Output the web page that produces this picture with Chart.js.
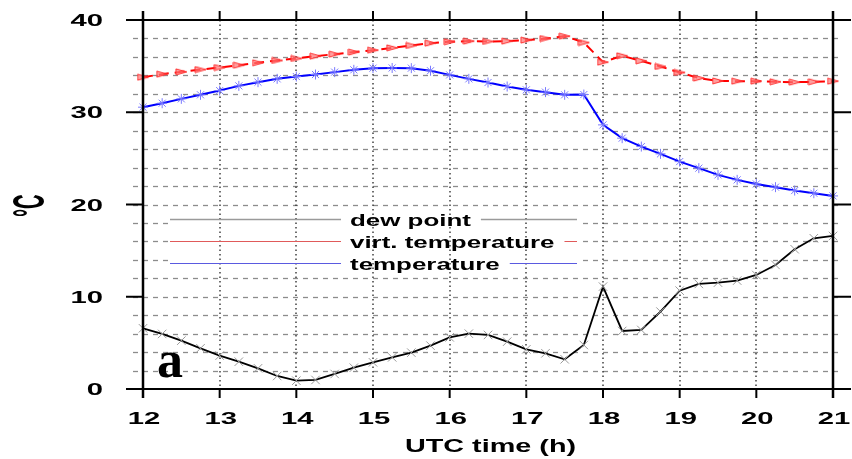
<!DOCTYPE html>
<html>
<head>
<meta charset="utf-8">
<script src="https://cdn.jsdelivr.net/npm/chart.js@4.4.1/dist/chart.umd.min.js"></script>
<style>
  html, body { margin: 0; padding: 0; background: #ffffff; }
  #wrap { width: 852px; height: 459px; }
</style>
</head>
<body>
<div id="wrap"><canvas id="c" width="852" height="459"></canvas></div>
<script>
// Observation times (UTC hours, 15-minute steps)
const times = [12, 12.25, 12.5, 12.75, 13, 13.25, 13.5, 13.75, 14, 14.25, 14.5, 14.75,
  15, 15.25, 15.5, 15.75, 16, 16.25, 16.5, 16.75, 17, 17.25, 17.5, 17.75,
  18, 18.25, 18.5, 18.75, 19, 19.25, 19.5, 19.75, 20, 20.25, 20.5, 20.75, 21];

// Dew point (°C)
const dewPoint = [6.58, 5.97, 5.24, 4.41, 3.62, 2.96, 2.24, 1.41, 0.9, 0.98, 1.63, 2.31,
  2.89, 3.43, 3.94, 4.7, 5.6, 6.0, 5.86, 5.13, 4.3, 3.87, 3.22, 4.77,
  11.1, 6.29, 6.4, 8.39, 10.66, 11.39, 11.53, 11.75, 12.36, 13.45, 15.15, 16.34, 16.59];

// Virtual temperature (°C)
const virtTemp = [33.8, 34.13, 34.38, 34.63, 34.85, 35.1, 35.36, 35.61, 35.83, 36.08, 36.3, 36.52,
  36.73, 36.98, 37.24, 37.49, 37.64, 37.71, 37.67, 37.71, 37.82, 37.99, 38.25, 37.56,
  35.43, 36.12, 35.57, 34.96, 34.31, 33.7, 33.4, 33.37, 33.37, 33.3, 33.26, 33.3, 33.37];

// Air temperature (°C)
const temperature = [30.55, 30.98, 31.45, 31.89, 32.35, 32.86, 33.26, 33.62, 33.87, 34.09, 34.35, 34.6,
  34.78, 34.8, 34.78, 34.5, 34.05, 33.62, 33.22, 32.79, 32.43, 32.18, 31.89, 31.92,
  28.63, 27.19, 26.28, 25.49, 24.65, 23.94, 23.21, 22.67, 22.23, 21.88, 21.51, 21.22, 20.93];

// Axis ticks
const xTicks = [12, 13, 14, 15, 16, 17, 18, 19, 20, 21];
const yTicks = [0, 10, 20, 30, 40];
const yMinorTicks = [2, 4, 6, 8, 10, 12, 14, 16, 18, 20, 22, 24, 26, 28, 30, 32, 34, 36, 38];

// Legend entries (top to bottom)
const legendLabels = ['dew point', 'virt. temperature', 'temperature'];
const legendColors = ['#9a9a9a', '#e05a5a', '#5a5ae0'];

function series(vals) {
  return vals.map((v, i) => ({ x: times[i], y: v }));
}

// right-pointing triangle marker
function triangleMarker() {
  const c = document.createElement('canvas');
  c.width = 13; c.height = 8;
  const g = c.getContext('2d');
  g.beginPath();
  g.moveTo(1, 1); g.lineTo(12, 4); g.lineTo(1, 7); g.closePath();
  g.fillStyle = 'rgba(255,120,120,0.7)';
  g.fill();
  g.strokeStyle = '#ff3030';
  g.lineWidth = 1;
  g.stroke();
  return c;
}

// text with horizontal stretch
function wideText(ctx, text, x, y, font, sx, align) {
  ctx.save();
  ctx.font = font;
  ctx.textBaseline = 'alphabetic';
  ctx.textAlign = 'left';
  const w = ctx.measureText(text).width * sx;
  const x0 = align === 'center' ? x - w / 2 : (align === 'right' ? x - w : x);
  ctx.translate(x0, y);
  ctx.scale(sx, 1);
  ctx.fillText(text, 0, 0);
  ctx.restore();
  return w;
}

const framePlugin = {
  id: 'frame',
  beforeDatasetsDraw(chart) {
    const ctx = chart.ctx;
    const xs = chart.scales.x, ys = chart.scales.y;
    const a = chart.chartArea;
    ctx.save();
    // horizontal dashed grid
    ctx.strokeStyle = '#8c8c8c';
    ctx.lineWidth = 1.3;
    ctx.setLineDash([5, 5]);
    yMinorTicks.forEach(v => {
      const y = Math.round(ys.getPixelForValue(v)) + 0.5;
      ctx.beginPath();
      ctx.moveTo(a.left - 10, y);
      ctx.lineTo(a.right + 10, y);
      ctx.stroke();
    });
    ctx.setLineDash([]);
    // legend background
    ctx.fillStyle = '#ffffff';
    ctx.fillRect(169, 213, 409, 55);
    // vertical dotted grid
    ctx.strokeStyle = '#333333';
    ctx.lineWidth = 1.4;
    ctx.setLineDash([1.5, 3]);
    xTicks.slice(1, -1).forEach(v => {
      const x = Math.round(xs.getPixelForValue(v));
      ctx.beginPath();
      ctx.moveTo(x, a.top);
      ctx.lineTo(x, a.bottom);
      ctx.stroke();
    });
    ctx.setLineDash([]);
    // legend
    const rows = [219.5, 241.5, 263.5];
    legendLabels.forEach((t, i) => {
      ctx.fillStyle = '#000000';
      const w = wideText(ctx, t, 350, rows[i] + 6.5, 'bold 17.4px "Liberation Sans", Arial, sans-serif', 1.49, 'left');
      ctx.strokeStyle = legendColors[i];
      ctx.lineWidth = i === 0 ? 1.5 : 1.2;
      ctx.beginPath();
      ctx.moveTo(170, rows[i]); ctx.lineTo(341, rows[i]);
      ctx.moveTo(350 + w + 10, rows[i]); ctx.lineTo(577, rows[i]);
      ctx.stroke();
    });
    ctx.restore();
  },
  afterDatasetsDraw(chart) {
    const ctx = chart.ctx;
    const xs = chart.scales.x, ys = chart.scales.y;
    const a = chart.chartArea;
    ctx.save();
    ctx.strokeStyle = '#000000';
    ctx.lineCap = 'butt';
    // top and bottom lines
    ctx.lineWidth = 2;
    [a.top, a.bottom].forEach(y => {
      ctx.beginPath();
      ctx.moveTo(a.left - 17, y); ctx.lineTo(a.right + 18, y);
      ctx.stroke();
    });
    // major y ticks, both sides
    yTicks.forEach(v => {
      const y = ys.getPixelForValue(v);
      ctx.beginPath();
      ctx.moveTo(a.left - 17, y); ctx.lineTo(a.left, y);
      ctx.moveTo(a.right, y); ctx.lineTo(a.right + 18, y);
      ctx.stroke();
    });
    // hour ticks top and bottom
    xTicks.forEach(v => {
      const x = xs.getPixelForValue(v);
      ctx.beginPath();
      ctx.moveTo(x, a.top - 9); ctx.lineTo(x, a.top);
      ctx.moveTo(x, a.bottom); ctx.lineTo(x, a.bottom + 9);
      ctx.stroke();
    });
    // side axes
    ctx.lineWidth = 2.5;
    [a.left, a.right].forEach(x => {
      ctx.beginPath();
      ctx.moveTo(x, a.top - 9); ctx.lineTo(x, a.bottom + 9);
      ctx.stroke();
    });

    // tick labels
    ctx.fillStyle = '#000000';
    const tickFont = 'bold 17px "Liberation Sans", Arial, sans-serif';
    yTicks.forEach(v => {
      const y = ys.getPixelForValue(v);
      wideText(ctx, String(v), 103, y + 6, tickFont, 1.72, 'right');
    });
    xTicks.forEach(v => {
      const x = xs.getPixelForValue(v);
      wideText(ctx, String(v), x + 1, 423.5, tickFont, 1.72, 'center');
    });
    // axis titles
    wideText(ctx, 'UTC time (h)', 490.5, 451.5, 'bold 18px "Liberation Sans", Arial, sans-serif', 1.6, 'center');
    ctx.save();
    ctx.translate(44, 217);
    ctx.rotate(-Math.PI / 2);
    ctx.scale(0.46, 1);
    ctx.font = 'bold 44px "Liberation Sans", Arial, sans-serif';
    ctx.textBaseline = 'alphabetic';
    ctx.fillText('\u00B0C', 0, 0);
    ctx.restore();
    // panel letter
    ctx.font = 'bold 52px "Liberation Serif", "Times New Roman", serif';
    ctx.textBaseline = 'alphabetic';
    ctx.fillText('a', 157, 377);
    ctx.restore();
  }
};

new Chart(document.getElementById('c'), {
  type: 'line',
  data: {
    datasets: [
      {
        label: 'dew point',
        data: series(dewPoint),
        borderColor: '#000000',
        borderWidth: 1.8,
        pointStyle: 'crossRot',
        pointRadius: 6,
        pointBorderColor: '#9a9a9a',
        pointBorderWidth: 1,
        tension: 0,
        clip: false
      },
      {
        label: 'virt. temperature',
        data: series(virtTemp),
        borderColor: '#ff0000',
        borderWidth: 2,
        borderDash: [10, 6],
        pointStyle: triangleMarker(),
        pointRadius: 6,
        tension: 0,
        clip: false
      },
      {
        label: 'temperature',
        data: series(temperature),
        borderColor: '#0000ff',
        borderWidth: 2,
        pointStyle: 'star',
        pointRadius: 5,
        pointBorderColor: '#7a7aff',
        pointBorderWidth: 1,
        tension: 0,
        clip: false
      }
    ]
  },
  options: {
    responsive: false,
    animation: false,
    events: [],
    layout: { padding: { left: 143, right: 19, top: 20, bottom: 70 } },
    plugins: { legend: { display: false }, tooltip: { enabled: false } },
    scales: {
      x: { type: 'linear', min: 12, max: 21, display: false },
      y: { type: 'linear', min: 0, max: 40, display: false }
    }
  },
  plugins: [framePlugin]
});
</script>
</body>
</html>
